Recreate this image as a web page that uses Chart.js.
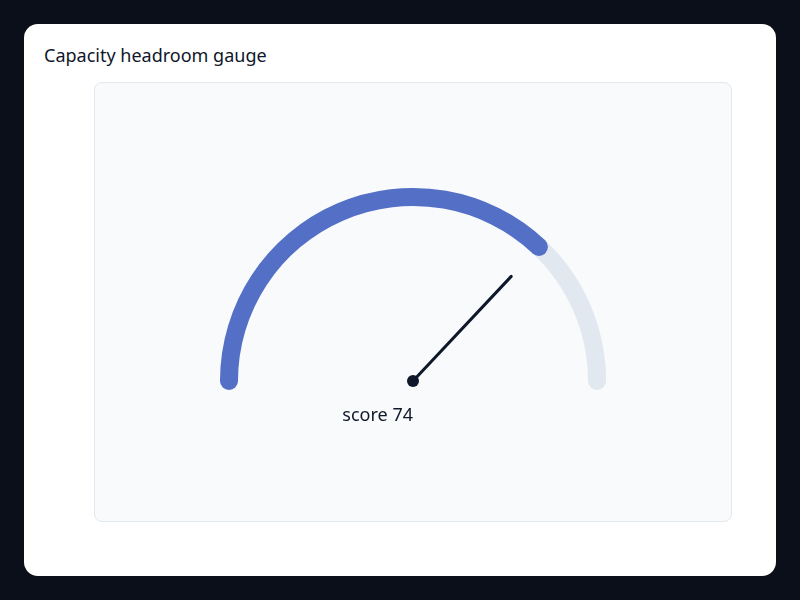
<!DOCTYPE html>
<html>
<head>
<meta charset="utf-8">
<script src="https://cdn.jsdelivr.net/npm/chart.js@4/dist/chart.umd.min.js"></script>
<style>
  html, body { margin: 0; padding: 0; }
  body { width: 800px; height: 600px; background: #0b0f1a; font-family: "Noto Sans", sans-serif; position: relative; overflow: hidden; }
  .card { position: absolute; left: 24px; top: 24px; width: 752px; height: 552px; background: #ffffff; border-radius: 14px; }
  .title { position: absolute; left: 20px; top: 19px; margin: 0; font-size: 18px; font-weight: 400; color: #0f172a; }
  .panel { position: absolute; left: 70px; top: 58px; width: 638px; height: 440px; box-sizing: border-box; background: #f8fafc; border: 1px solid #e2e8f0; border-radius: 8px; }
  canvas { display: block; }
</style>
</head>
<body>
<div class="card">
  <h1 class="title">Capacity headroom gauge</h1>
  <div class="panel">
    <canvas id="gauge" width="636" height="438"></canvas>
  </div>
</div>
<script>
// Gauge data
const gaugeLabels = ["score", "headroom"];
const gaugeMax = 100;
const score = 74;
const gaugeValues = [score, gaugeMax - score];
const scoreText = "score " + score;

const blue = "#5470c6";
const track = "#e2e8f0";
const ink = "#0f172a";

// round caps + needle, using the arc geometry the doughnut computed
const gaugeExtras = {
  id: "gaugeExtras",
  afterDatasetsDraw(chart) {
    const arcs = chart.getDatasetMeta(0).data;
    const valueArc = arcs[0];
    const restArc = arcs[1];
    const cx = valueArc.x;
    const cy = valueArc.y;
    const mid = (valueArc.innerRadius + valueArc.outerRadius) / 2;
    const half = (valueArc.outerRadius - valueArc.innerRadius) / 2;
    const ctx = chart.ctx;

    const cap = (angle, color) => {
      ctx.beginPath();
      ctx.arc(cx + Math.cos(angle) * mid, cy + Math.sin(angle) * mid, half, 0, Math.PI * 2);
      ctx.fillStyle = color;
      ctx.fill();
    };
    ctx.save();
    cap(restArc.endAngle, track);
    cap(valueArc.startAngle, blue);
    cap(valueArc.endAngle, blue);

    // needle
    const a = valueArc.endAngle;
    const len = mid * 0.78;
    ctx.beginPath();
    ctx.moveTo(cx, cy);
    ctx.lineTo(cx + Math.cos(a) * len, cy + Math.sin(a) * len);
    ctx.strokeStyle = ink;
    ctx.lineWidth = 3;
    ctx.lineCap = "round";
    ctx.stroke();

    ctx.beginPath();
    ctx.arc(cx, cy, 6, 0, Math.PI * 2);
    ctx.fillStyle = ink;
    ctx.fill();

    ctx.font = "18px 'Noto Sans'";
    ctx.fillStyle = ink;
    ctx.textAlign = "right";
    ctx.textBaseline = "alphabetic";
    ctx.fillText(scoreText, cx, cy + 40);
    ctx.restore();
  }
};

const ctx = document.getElementById("gauge").getContext("2d");
const gaugeChart = new Chart(ctx, {
  type: "doughnut",
  data: {
    labels: gaugeLabels,
    datasets: [{
      data: gaugeValues,
      backgroundColor: [blue, track],
      borderWidth: 0,
      hoverOffset: 0
    }]
  },
  options: {
    responsive: false,
    animation: false,
    events: [],
    rotation: -90,
    circumference: 180,
    radius: 193,
    cutout: "90.67%",
    layout: { padding: { top: 0, bottom: 35, left: 0, right: 0 } },
    plugins: {
      legend: { display: false },
      tooltip: { enabled: false }
    }
  },
  plugins: [gaugeExtras]
});
</script>
</body>
</html>
